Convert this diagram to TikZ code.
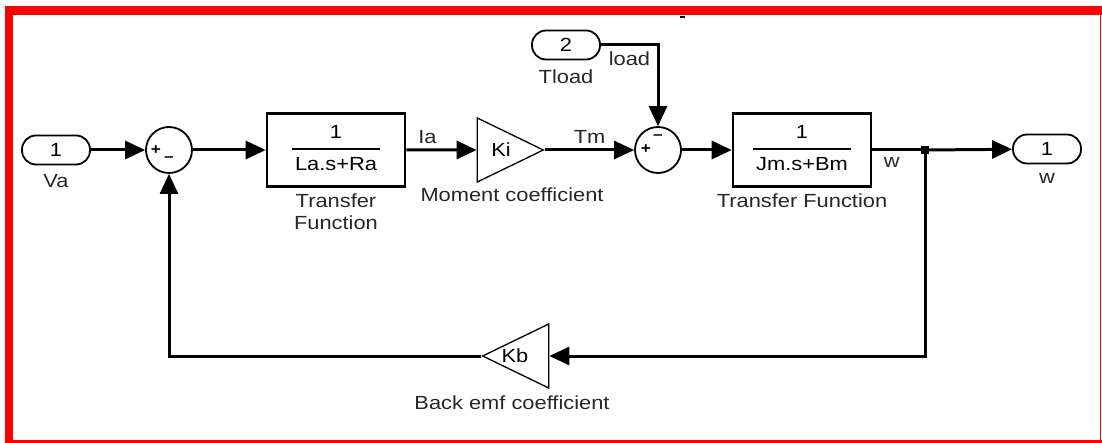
\documentclass[tikz,border=0pt]{standalone}
\usepackage{fontspec}
\setmainfont[FakeStretch=1.15]{Liberation Sans}
\usetikzlibrary{arrows.meta, positioning, shapes.geometric}

\begin{document}
\begin{tikzpicture}[
				x=1pt, y=-1pt,
				>={Triangle[length=20pt, width=18pt]},
				txt/.style={font=\fontsize{19}{22}\selectfont, text=black!85, inner sep=0pt},
				sgn/.style={font=\fontsize{15}{15}\selectfont\bfseries, inner sep=0pt},
				port/.style={draw, line width=1.8pt, rounded corners=14pt,
					minimum width=68pt, minimum height=29pt, inner sep=0pt, txt, text=black},
				sumblk/.style={draw, line width=1.8pt, circle, minimum size=46pt, inner sep=0pt},
				tfblk/.style={draw, line width=2.6pt, minimum width=138pt, minimum height=73pt,
					inner sep=0pt, txt, text=black},
				gainblk/.style={draw, line width=1.3pt, isosceles triangle, isosceles triangle stretches,
					minimum height=66pt, minimum width=64pt, inner sep=0pt, txt, text=black},
				sig/.style={line width=3pt}
			]
				\useasboundingbox (0,0) rectangle (1102,443);
				\fill[red] (5,6) rectangle (1102,15);
				\fill[red] (5,6) rectangle (13,443);
				\fill[red] (5,440) rectangle (1102,443);
				\fill[red] (1099.5,6) rectangle (1101,443);
				\draw[line width=1.5pt] (680,17) -- (685,17);

				\node[port] (va) at (56,150) {1};
				\node[txt, below=9pt of va] (valbl) {Va};

				\node[sumblk] (sum1) at (169,150) {};
				\node[sgn] at (156,150) {+};
				\node[sgn] at (169,159) {–};

				\node[tfblk] (tf1) at (336,150) {%
					\setlength{\arrayrulewidth}{1.8pt}%
					\begin{tabular}{@{\,}c@{\,}}1\\[3pt]\hline\rule{0pt}{21pt}La.s+Ra\end{tabular}};
				\node[txt, align=center, below=6pt of tf1] (tf1lbl) {Transfer\\Function};

				\node[gainblk, anchor=apex] (ki) at (545,150) {\hspace*{6pt}Ki};
				\node[txt] (kilbl) at (512,195) {Moment coefficient};

				\node[port] (tload) at (566,45) {2};
				\node[txt, below=9pt of tload] (tloadlbl) {Tload};

				\node[sumblk] (sum2) at (658,150) {};
				\node[sgn] at (646,149) {+};
				\node[sgn] at (658,137) {–};

				\node[tfblk] (tf2) at (802,150) {%
					\setlength{\arrayrulewidth}{1.8pt}%
					\begin{tabular}{@{\,}c@{\,}}1\\[3pt]\hline\rule{0pt}{21pt}Jm.s+Bm\end{tabular}};
				\node[txt, below=6pt of tf2] (tf2lbl) {Transfer Function};

				\node[fill, minimum size=8pt, inner sep=0pt] (branch) at (925,150) {};

				\node[port] (wout) at (1047,149) {1};
				\node[txt, below=9pt of wout] (woutlbl) {w};

				\node[gainblk, shape border rotate=180, anchor=apex] (kb) at (481,356) {};
				\node[txt, text=black] (kbtxt) at (515,356) {Kb};
				\node[txt] (kblbl) at (512,403) {Back emf coefficient};

				\draw[sig, ->] (va) -- (sum1);
				\draw[sig, ->] (sum1) -- (tf1);
				\draw[sig, ->] (tf1) -- node[txt, pos=0.3, above=5pt] {Ia} (ki.west);
				\draw[sig, ->] (ki.apex) -- node[txt, midway, above=5pt] {Tm} (sum2);
				\draw[sig, ->] (tload) -| node[txt, pos=0.25, below=5pt] {load} (sum2);
				\draw[sig, ->] (sum2) -- (tf2);
				\draw[sig] (tf2) -- node[txt, pos=0.4, below=6pt] {w} (branch);
				\draw[sig, ->] (branch) -- (wout);
				\draw[sig, ->] (branch) |- (kb.east);
				\draw[sig, ->] (kb.apex) -| (sum1);
			\end{tikzpicture}
\end{document}
